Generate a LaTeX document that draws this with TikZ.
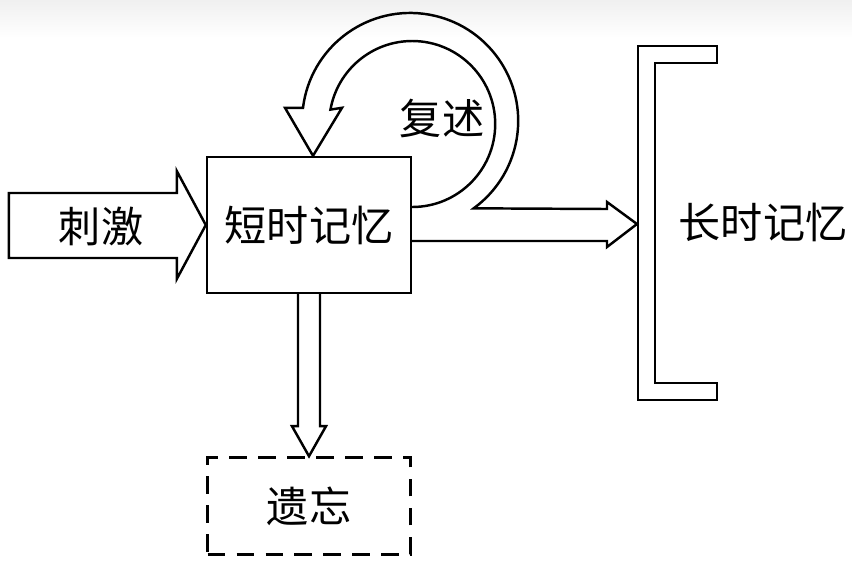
\documentclass[tikz,border=0pt]{standalone}
\usepackage{fontspec}
\newfontfamily\cjk{Noto Sans CJK SC}
\usepackage{tikz}
\usetikzlibrary{calc,positioning}

\begin{document}
\begin{tikzpicture}[x=.02cm,y=-.02cm,line width=1.4pt,
    font=\cjk\fontsize{24}{28}\selectfont,
    membox/.style={draw,minimum width=4.08cm,minimum height=2.72cm,inner sep=0pt},
    lostbox/.style={draw,dash pattern=on 10pt off 6.5pt,minimum width=4.06cm,
      minimum height=1.94cm,inner sep=0pt},
    fatarrow/.style={draw,line join=miter}]
  \useasboundingbox (0,0) rectangle (852,566);
  \shade[top color=black!6,bottom color=white] (0,0) rectangle (852,38);

  \node[membox] (stm) at (309,225) {短时记忆};
  \node[lostbox,below=3.24cm of stm] (forget) {遗忘};
  \coordinate (ltmin) at (638,224);

  % long-term store
  \draw[line join=miter] (638,46) -| (717,63) -| (655,383) -| (717,400) -| cycle;
  \node (ltm) at (763,222) {长时记忆};

  % input
  \draw[fatarrow] (stm.west) -- ++(-29,-54) -- ++(0,22) -- ++(-168,0)
    -- ++(0,65) -- ++(168,0) -- ++(0,21) -- cycle;
  \node (stimlabel) at (101,226) {刺激};

  % rehearsal loop and transfer
  \draw[fatarrow] ($(stm.east)+(0,-18)$) arc[start angle=90,end angle=-170,radius=83]
    -- ($(stm.north)+(33,-48)$) -- ($(stm.north)+(4,0)$)
    -- ($(stm.north)+(-24,-48)$) -- ($(stm.north)+(-6,-48)$)
    arc[start angle=-173,end angle=54,radius=108]
    -- ($(ltmin)+(-31,-15)$) -- ($(ltmin)+(-31,-22)$) -- ($(ltmin)+(-1,0)$)
    -- ($(ltmin)+(-31,23)$) -- ($(ltmin)+(-31,17)$) -- ($(stm.east)+(0,16)$);
  \node (rehearse) at (442,118) {复述};

  % decay
  \draw[fatarrow] ($(stm.south)+(-11,0)$) -- ($(forget.north)+(-11,-30)$) -- ++(-6,0)
    -- (forget.north) -- ($(forget.north)+(17,-30)$) -- ++(-6,0)
    -- ($(stm.south)+(11,0)$);
\end{tikzpicture}
\end{document}
